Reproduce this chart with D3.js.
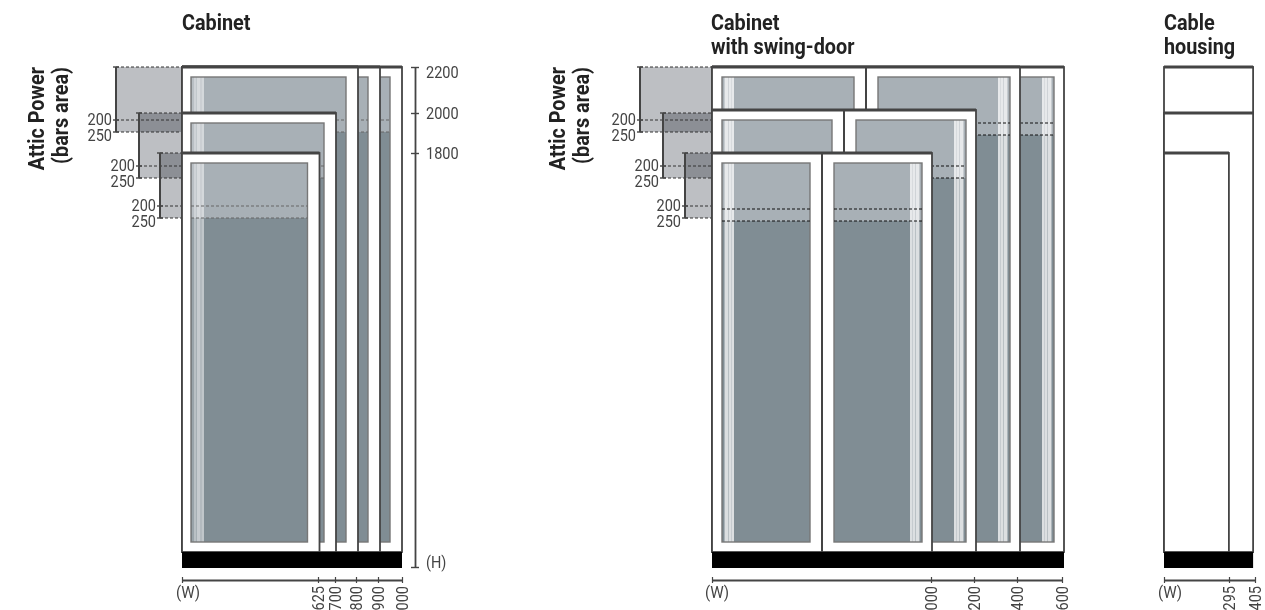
<!DOCTYPE html>
<html>
<head>
<meta charset="utf-8">
<style>
  html, body { margin: 0; background: #fff; overflow: hidden; }
  text { font-family: Roboto, "Open Sans", sans-serif; fill: #444; }
  .title { font-weight: 700; font-size: 22px; fill: #222; }
  .tick-label { font-size: 16.5px; }
</style>
<script src="https://cdn.jsdelivr.net/npm/d3@7"></script>
</head>
<body>
<svg id="chart" width="1265" height="610"></svg>
<script>
const cabinetWidths = [1000, 900, 800, 700, 625];
const cabinetHeights = [2200, 2200, 2200, 2000, 1800];
const swingWidths = [1600, 1400, 1200, 1000];
const swingHeights = [2200, 2200, 2000, 1800];
const housingWidths = [405, 405, 295];
const housingHeights = [2200, 2000, 1800];
const atticLevels = [2200, 2000, 1800];
const atticTicks = [200, 250];
const heightTicks = [2200, 2000, 1800];
const cabinetWTicks = [625, 700, 800, 900, 1000];
const swingWTicks = [1000, 1200, 1400, 1600];
const housingWTicks = [295, 405];

const DARK = '#444';
const GLASS_TOP = '#a8b0b6';
const GLASS_LOW = '#808d94';
const ATTIC = '#bdbfc3';
const BASE_Y = 552;
const PLINTH_Y = 568;

const svg = d3.select('#chart');
const xScale = (x0) => d3.scaleLinear().domain([0, 1000]).range([x0, x0 + 220]);

// heights are not quite linear in the source drawing
const yCabinet = d3.scaleLinear().domain([0, 1800, 2000, 2200]).range([567, 153, 113, 67]);
const ySwing = d3.scaleLinear().domain([0, 1800, 2000, 2200]).range([567, 153, 110, 67]);
const atticDepth = d3.scaleLinear().domain([0, 200, 250]).range([0, 53, 65]);
const swingDepth = d3.scaleLinear().domain([0, 200, 250]).range([0, 56, 68]);

// the original type is a condensed DIN, so squeeze the installed font
function squeeze(sel, k) {
  sel.each(function () {
    this.setAttribute('textLength', this.getComputedTextLength() * k);
    this.setAttribute('lengthAdjust', 'spacingAndGlyphs');
  });
  return sel;
}

function glass(g, x1, x2, top, depth, stripeSide, strong) {
  const yTop = top + 10;
  const yLow = top + depth(250);
  g.append('rect').attr('x', x1).attr('y', yTop).attr('width', x2 - x1).attr('height', yLow - yTop).attr('fill', GLASS_TOP);
  g.append('rect').attr('x', x1).attr('y', yLow).attr('width', x2 - x1).attr('height', BASE_Y - 10 - yLow).attr('fill', GLASS_LOW);

  // light bands along the hinge side
  const bands = strong
    ? [[2, 1, 0.35], [3, 3, 0.72], [6, 1, 0.45], [7, 2, 0.72], [9, 1, 0.55], [10, 2, 0.72]]
    : [[1, 2, 0.2], [3, 2, 0.45], [5, 1, 0.3], [6, 3, 0.55], [9, 2, 0.4], [11, 2, 0.5]];
  bands.forEach(([o, w, a]) => {
    const bx = stripeSide === 'left' ? x1 + o : x2 - o - w;
    g.append('rect').attr('x', bx).attr('y', yTop).attr('width', w).attr('height', BASE_Y - 10 - yTop).attr('fill', '#fff').attr('opacity', a);
  });

  g.append('rect').attr('x', x1).attr('y', yTop).attr('width', x2 - x1).attr('height', BASE_Y - 10 - yTop)
    .attr('fill', 'none').attr('stroke', '#777').attr('stroke-width', 1.4);

  atticTicks.forEach((t) => {
    g.append('line').attr('x1', x1).attr('x2', x2).attr('y1', top + depth(t)).attr('y2', top + depth(t))
      .attr('stroke', strong ? '#111' : '#666').attr('stroke-width', 1).attr('stroke-dasharray', '3,2');
  });
}

function frame(g, x1, x2, top, topWeight) {
  g.append('rect').attr('x', x1).attr('y', top).attr('width', x2 - x1).attr('height', BASE_Y - top)
    .attr('fill', '#fff').attr('stroke', DARK).attr('stroke-width', 1.8);
  g.append('line').attr('x1', x1).attr('x2', x2).attr('y1', top).attr('y2', top)
    .attr('stroke', DARK).attr('stroke-width', topWeight);
}

function widthAxis(x, ticks, labelX) {
  const g = svg.append('g').attr('transform', 'translate(0,580)');
  g.call(d3.axisBottom(x).tickValues([0].concat(ticks)).tickSize(0).tickPadding(6));
  g.select('.domain').attr('stroke', DARK).attr('stroke-width', 1.8);
  g.selectAll('.tick line').attr('y1', -3).attr('y2', 3).attr('stroke', DARK).attr('stroke-width', 1.2);
  g.selectAll('.tick text')
    .attr('class', 'tick-label')
    .attr('text-anchor', 'end')
    .attr('transform', 'rotate(-90)')
    .attr('x', -6).attr('y', 0).attr('dy', '0.35em')
    .text((d) => d);
  g.selectAll('.tick').filter((d) => d === 0).select('text').remove();
  squeeze(g.selectAll('.tick text'), 0.88);
  squeeze(svg.append('text').attr('class', 'tick-label').attr('x', labelX).attr('y', 598).attr('text-anchor', 'middle').text('(W)'), 0.92);
}

function plinth(x, maxW) {
  svg.append('rect').attr('x', x(0)).attr('y', BASE_Y).attr('width', x(maxW) - x(0)).attr('height', PLINTH_Y - BASE_Y).attr('fill', '#000');
}

function title(x, lines) {
  lines.forEach((l, i) => {
    squeeze(svg.append('text').attr('class', 'title').attr('x', x).attr('y', 30 + i * 24).text(l), 0.9);
  });
}

function atticSide(x0, lefts, titleX) {
  const g = svg.append('g');
  atticLevels.forEach((lv, i) => {
    g.append('rect').attr('x', lefts[i]).attr('y', yCabinet(lv)).attr('width', x0 - lefts[i]).attr('height', atticDepth(250))
      .attr('fill', ATTIC).style('mix-blend-mode', 'multiply');
  });
  atticLevels.forEach((lv, i) => {
    const top = yCabinet(lv);
    const xb = lefts[i];
    [0, 200, 250].forEach((t) => {
      g.append('line').attr('x1', xb).attr('x2', x0).attr('y1', top + atticDepth(t)).attr('y2', top + atticDepth(t))
        .attr('stroke', '#333').attr('stroke-width', 1).attr('stroke-dasharray', '3,2');
      g.append('line').attr('x1', xb - 3).attr('x2', xb + 3).attr('y1', top + atticDepth(t)).attr('y2', top + atticDepth(t))
        .attr('stroke', DARK).attr('stroke-width', 1.4);
    });
    g.append('line').attr('x1', xb).attr('x2', xb).attr('y1', top).attr('y2', top + atticDepth(250))
      .attr('stroke', DARK).attr('stroke-width', 2);
    atticTicks.forEach((t, k) => {
      squeeze(g.append('text').attr('class', 'tick-label').attr('x', xb - 4).attr('y', top + atticDepth(t) + (k === 0 ? 5 : 9))
        .attr('text-anchor', 'end').text(t), 0.88);
    });
  });
  [['Attic Power', 0], ['(bars area)', 24]].forEach(([s, dx]) => {
    squeeze(svg.append('text').attr('class', 'title').attr('text-anchor', 'end')
      .attr('transform', 'translate(' + (titleX + dx) + ',67) rotate(-90)').text(s), 0.9);
  });
}

// Cabinet
(function () {
  const x = xScale(182);
  atticSide(x(0), [116, 139, 160], 44);
  cabinetWidths.forEach((w, i) => {
    const g = svg.append('g');
    const top = yCabinet(cabinetHeights[i]);
    frame(g, x(0), x(w), top, 3);
    glass(g, x(0) + 9, x(w) - 12, top, atticDepth, 'left', false);
  });
  plinth(x, 1000);
  title(182, ['Cabinet']);
  widthAxis(d3.scaleLinear().domain([0].concat(cabinetWTicks)).range([182, 318, 335, 356, 378, 402]), cabinetWTicks, 188);

  const ax = svg.append('g').attr('transform', 'translate(415,0)');
  ax.call(d3.axisRight(yCabinet).tickValues(heightTicks.concat([0])).tickSize(0).tickPadding(11)
    .tickFormat((d) => d === 0 ? '(H)' : d));
  ax.select('.domain').attr('stroke', DARK).attr('stroke-width', 1.8);
  ax.selectAll('.tick line').attr('x1', -4).attr('x2', 4).attr('stroke', DARK).attr('stroke-width', 1.4);
  const labels = ax.selectAll('.tick text').attr('class', 'tick-label')
    .attr('dy', (d) => d === 2200 ? '0.65em' : d === 0 ? '0.05em' : '0.35em');
  squeeze(labels, 0.88);
})();

// Cabinet with swing-door
(function () {
  const x = xScale(712);
  atticSide(x(0), [640, 663, 685], 565);
  swingWidths.forEach((w, i) => {
    const g = svg.append('g');
    const top = ySwing(swingHeights[i]);
    const split = w / 2;
    frame(g, x(0), x(w), top, 3);
    g.append('line').attr('x1', x(split)).attr('x2', x(split)).attr('y1', top).attr('y2', BASE_Y)
      .attr('stroke', DARK).attr('stroke-width', 2);
    glass(g, x(0) + 10, x(split) - 12, top, swingDepth, 'left', true);
    glass(g, x(split) + 12, x(w) - 10, top, swingDepth, 'right', true);
  });
  plinth(x, 1600);
  title(711, ['Cabinet', 'with swing-door']);
  widthAxis(d3.scaleLinear().domain([0].concat(swingWTicks)).range([712, 931, 974, 1017, 1062]), swingWTicks, 717);
})();

// Cable housing
(function () {
  const x = xScale(1164);
  housingWidths.forEach((w, i) => {
    frame(svg.append('g'), x(0), x(w), yCabinet(housingHeights[i]), 3);
  });
  plinth(x, 405);
  title(1164, ['Cable', 'housing']);
  widthAxis(d3.scaleLinear().domain([0].concat(housingWTicks)).range([1164, 1229, 1255]), housingWTicks, 1170);
})();
</script>
</body>
</html>
